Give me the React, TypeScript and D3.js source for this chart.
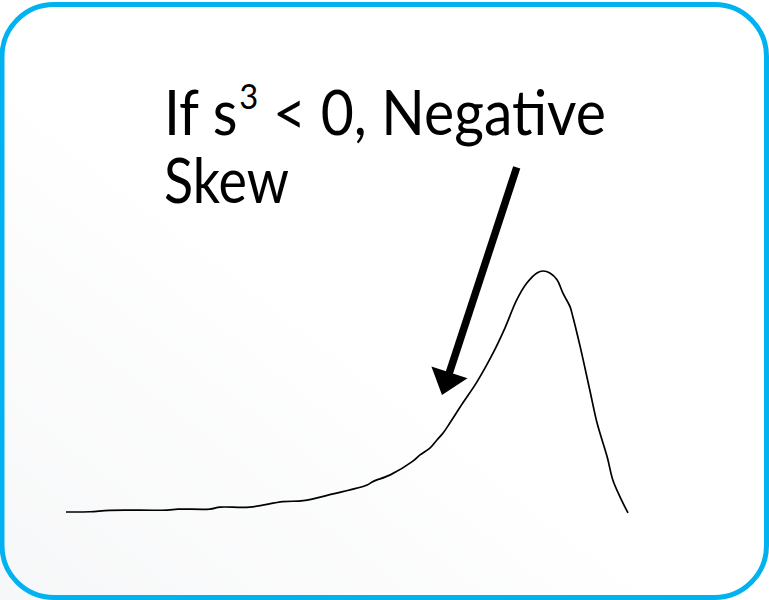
import React, { useEffect, useRef } from "react";
import * as d3 from "d3";

// Sample points of a negatively skewed density curve (x in %, density in % of peak)
const curveX = [0, 4.3, 7.8, 18.0, 19.9, 25.6, 27.4, 32.7, 38.6, 42.2, 47.5, 53.6, 54.6, 57.7, 61.6, 63.0, 64.8, 66.0, 67.1, 68.3, 70.6, 73.1, 76.0, 78.1, 80.2, 82.0, 83.8, 84.9, 86.1, 87.4, 88.4, 89.7, 90.2, 91.5, 93.2, 94.5, 96.3, 97.3, 98.6, 100];
const curveY = [0, 0.1, 0.7, 0.8, 1.2, 1.2, 2.0, 2.0, 4.3, 4.7, 7.5, 11.2, 12.6, 15.4, 20.9, 23.7, 26.6, 29.9, 32.8, 36.9, 45.2, 53.9, 66.0, 76.3, 88.0, 95.0, 99.2, 100, 99.2, 96.3, 90.9, 85.1, 80.9, 68.5, 50.6, 36.9, 22.8, 13.3, 6.2, -0.4];

// Annotation arrow: tail and tip in data units
const arrowTail = [80.2, 143];
const arrowTip = [66.9, 48.5];

const titleLine1 = ["If s", "3", " < 0, Negative"];
const titleLine2 = "Skew";

const W = 769;
const H = 600;

export default function App() {
  const ref = useRef<SVGSVGElement | null>(null);

  useEffect(() => {
    const svg = d3.select(ref.current);
    svg.selectAll("*").remove();

    const defs = svg.append("defs");
    const grad = defs
      .append("linearGradient")
      .attr("id", "bg")
      .attr("x1", "100%")
      .attr("y1", "0%")
      .attr("x2", "0%")
      .attr("y2", "100%");
    grad.append("stop").attr("offset", "0%").attr("stop-color", "#ffffff");
    grad.append("stop").attr("offset", "55%").attr("stop-color", "#ffffff");
    grad.append("stop").attr("offset", "100%").attr("stop-color", "#f6f7f8");

    svg.append("rect").attr("width", W).attr("height", H).attr("fill", "url(#bg)");

    // Rounded frame
    svg
      .append("rect")
      .attr("x", 2)
      .attr("y", 4.5)
      .attr("width", 764.5)
      .attr("height", 593)
      .attr("rx", 52)
      .attr("ry", 52)
      .attr("fill", "none")
      .attr("stroke", "#00B2EF")
      .attr("stroke-width", 5);

    const x = d3.scaleLinear().domain([0, 100]).range([66, 628]);
    const y = d3.scaleLinear().domain([0, 100]).range([512, 271]);

    const pts: [number, number][] = curveX.map((v, i) => [v, curveY[i]]);
    const line = d3
      .line<[number, number]>()
      .x((d) => x(d[0]))
      .y((d) => y(d[1]))
      .curve(d3.curveCatmullRom.alpha(0.5));

    svg
      .append("path")
      .attr("d", line(pts) || "")
      .attr("fill", "none")
      .attr("stroke", "#000")
      .attr("stroke-width", 1.7);

    // Arrow
    const tx = x(arrowTail[0]);
    const ty = y(arrowTail[1]);
    const px = x(arrowTip[0]);
    const py = y(arrowTip[1]);
    const ang = Math.atan2(py - ty, px - tx);
    const headLen = 24;
    const headHalf = 19;
    const bx = px - headLen * Math.cos(ang);
    const by = py - headLen * Math.sin(ang);
    const nx = -Math.sin(ang);
    const ny = Math.cos(ang);
    svg
      .append("line")
      .attr("x1", tx)
      .attr("y1", ty)
      .attr("x2", bx + 2 * Math.cos(ang))
      .attr("y2", by + 2 * Math.sin(ang))
      .attr("stroke", "#000")
      .attr("stroke-width", 7.5);
    svg
      .append("polygon")
      .attr(
        "points",
        [
          [px, py],
          [bx + nx * headHalf, by + ny * headHalf],
          [bx - nx * headHalf, by - ny * headHalf],
        ]
          .map((p) => p.join(","))
          .join(" ")
      )
      .attr("fill", "#000");

    // Title text
    const font = "Lato, 'Open Sans', sans-serif";
    const t1 = svg
      .append("text")
      .attr("x", 164)
      .attr("y", 135)
      .attr("font-family", font)
      .attr("font-size", 61)
      .attr("fill", "#000");
    t1.append("tspan").text(titleLine1[0]);
    t1.append("tspan").attr("dy", -26).attr("dx", 2).attr("font-size", 35).text(titleLine1[1]);
    t1.append("tspan").attr("dy", 26).text(titleLine1[2]);

    const t2 = svg
      .append("text")
      .attr("x", 164)
      .attr("y", 203)
      .attr("font-family", font)
      .attr("font-size", 61)
      .attr("fill", "#000")
      .text(titleLine2);

    const fit = (sel: any, left: number, right: number) => {
      const node = sel.node() as SVGTextElement;
      const bb = node.getBBox();
      const sx = (right - left) / bb.width;
      sel.attr("transform", `translate(${left},0) scale(${sx},1) translate(${-bb.x},0)`);
    };
    fit(t1, 164, 606);
    fit(t2, 164, 289);
  }, []);

  return (
    <svg
      ref={ref}
      width={W}
      height={H}
      style={{ position: "absolute", left: 0, top: 0, display: "block" }}
    />
  );
}
